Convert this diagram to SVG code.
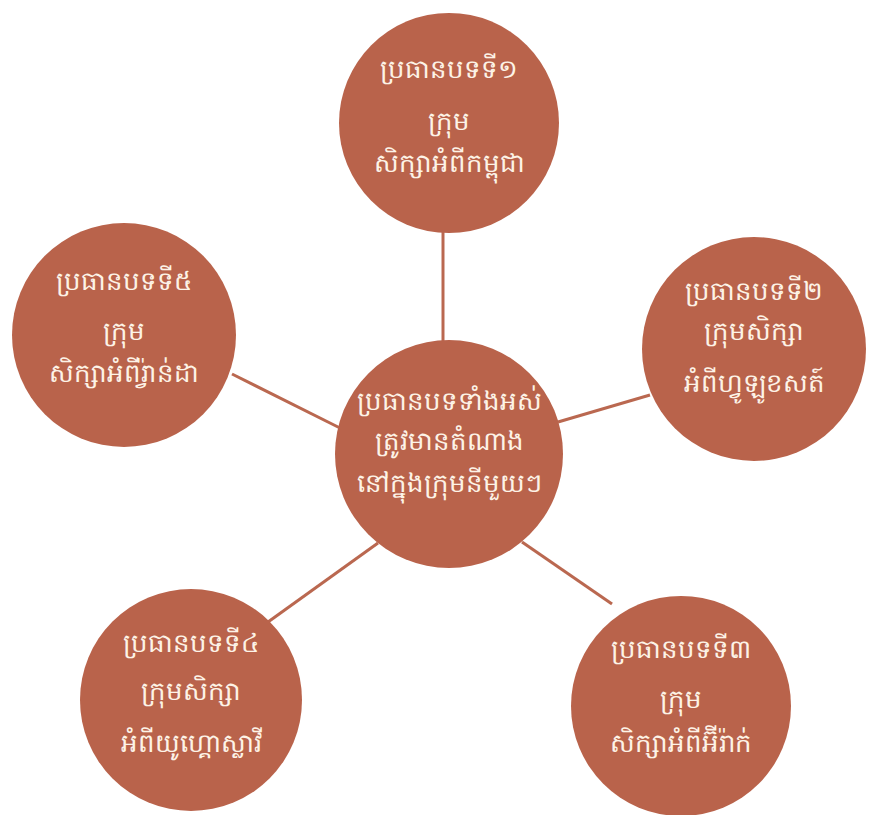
<svg xmlns="http://www.w3.org/2000/svg" width="870" height="815" viewBox="0 0 870 815">
<style>
.n{fill:#B9634B}
.c line{stroke:#BA6850;stroke-width:3}
text{fill:#FDF3E7;font-family:"Noto Sans","DejaVu Sans",sans-serif;font-size:26px;text-anchor:middle}
</style>
<rect width="870" height="815" fill="#FFFFFF"/>
<g class="c" id="connectors">
<line x1="443" y1="230" x2="443" y2="342"/>
<line x1="558" y1="422" x2="650" y2="395"/>
<line x1="232" y1="374" x2="340" y2="428"/>
<line x1="268" y1="622" x2="378" y2="543"/>
<line x1="522" y1="542" x2="612" y2="604"/>
</g>
<g id="top"><circle class="n" cx="449" cy="123" r="110"/>
<text x="449" y="78">ប្រធានបទទី១</text><text x="449" y="130">ក្រុម</text><text x="449" y="172">សិក្សាអំពីកម្ពុជា</text></g>
<g id="right"><circle class="n" cx="754" cy="349" r="112"/>
<text x="754" y="300">ប្រធានបទទី២</text><text x="754" y="340">ក្រុមសិក្សា</text><text x="754" y="392">អំពីហ្វូឡូខសត៍</text></g>
<g id="center"><circle class="n" cx="449" cy="454" r="114"/>
<text x="449" y="410">ប្រធានបទទាំងអស់</text><text x="449" y="450">ត្រូវមានតំណាង</text><text x="449" y="492">នៅក្នុងក្រុមនីមួយៗ</text></g>
<g id="left"><circle class="n" cx="124" cy="335" r="112"/>
<text x="124" y="290">ប្រធានបទទី៥</text><text x="124" y="340">ក្រុម</text><text x="124" y="382">សិក្សាអំពីរ្វ៉ាន់ដា</text></g>
<g id="bottomleft"><circle class="n" cx="191" cy="700" r="111"/>
<text x="191" y="652">ប្រធានបទទី៤</text><text x="191" y="700">ក្រុមសិក្សា</text><text x="191" y="752">អំពីយូហ្គោស្លាវី</text></g>
<g id="bottomright"><circle class="n" cx="681" cy="706" r="110"/>
<text x="681" y="658">ប្រធានបទទី៣</text><text x="681" y="708">ក្រុម</text><text x="681" y="752">សិក្សាអំពីអ៊ីរ៉ាក់</text></g>
</svg>
